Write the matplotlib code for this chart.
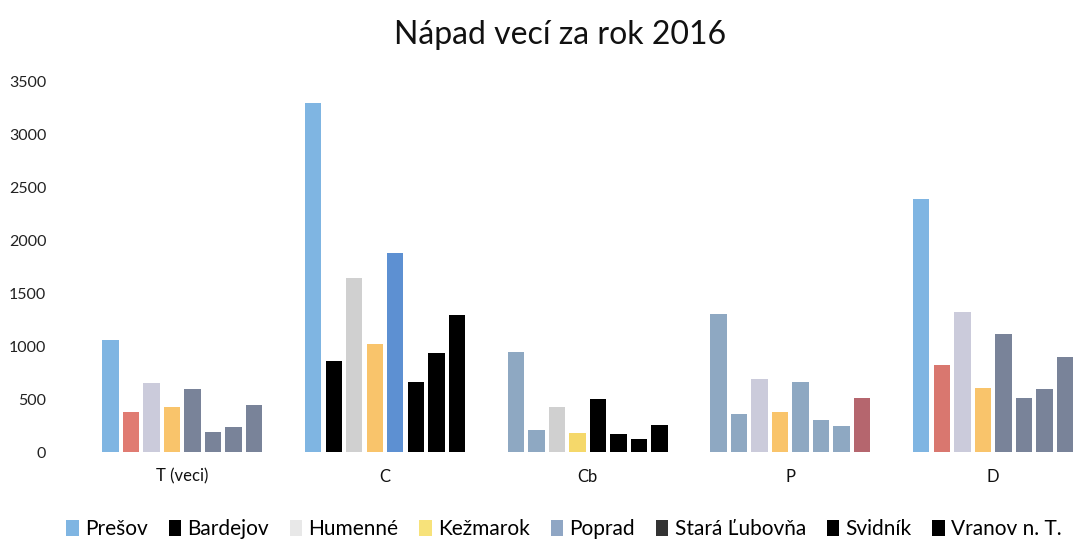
import numpy as np
import matplotlib.pyplot as plt
from matplotlib.patches import Patch

# ==================== data ====================
categories = ["T (veci)", "C", "Cb", "P", "D"]
series = ["Prešov", "Bardejov", "Humenné", "Kežmarok", "Poprad",
          "Stará Ľubovňa", "Svidník", "Vranov n. T."]

# values per series, one per category (T, C, Cb, P, D)
presov = [1060, 3300, 950, 1305, 2390]
bardejov = [380, 865, 210, 360, 825]
humenne = [655, 1645, 430, 690, 1320]
kezmarok = [425, 1020, 180, 380, 610]
poprad = [595, 1885, 500, 660, 1115]
stara_lubovna = [190, 665, 170, 305, 515]
svidnik = [235, 940, 125, 245, 595]
vranov = [445, 1295, 260, 510, 895]

values = [presov, bardejov, humenne, kezmarok, poprad, stara_lubovna, svidnik, vranov]

y_ticks = [0, 500, 1000, 1500, 2000, 2500, 3000, 3500]

# ==================== styles ====================
BLUE = "#7fb5e2"
SALMON = "#e07b72"
LAVENDER = "#cbcbdb"
ORANGE = "#f9c46b"
SLATE = "#798399"
STEEL = "#8ea8c2"
BLACK = "#000000"
GRAY = "#d0d0d0"
POP = "#5d90d2"
MAROON = "#b5666e"

# colour of each bar: rows = categories, columns = series
bar_colors = [
    [BLUE, SALMON, LAVENDER, ORANGE, SLATE, SLATE, SLATE, SLATE],
    [BLUE, BLACK, GRAY, ORANGE, POP, BLACK, BLACK, BLACK],
    [STEEL, STEEL, GRAY, "#f5d86a", BLACK, BLACK, BLACK, BLACK],
    [STEEL, STEEL, LAVENDER, ORANGE, STEEL, STEEL, STEEL, MAROON],
    [BLUE, "#d9776f", LAVENDER, ORANGE, SLATE, SLATE, SLATE, SLATE],
]
legend_colors = [BLUE, BLACK, "#e8e8e8", "#f7e27a", "#8fa6c4", "#333333", BLACK, BLACK]

plt.rcParams["font.family"] = ["Lato", "DejaVu Sans"]

fig = plt.figure(figsize=(10.77, 5.44), dpi=100)
ax = fig.add_axes([81 / 1077, (544 - 452) / 544, (1077 - 81) / 1077, (452 - 82) / 544])

x = np.arange(len(categories))
n = len(series)
slot = 0.81 / n
bar_w = slot * 0.8
for i, vals in enumerate(values):
    offs = (i - (n - 1) / 2) * slot
    cols = [bar_colors[c][i] for c in range(len(categories))]
    ax.bar(x + offs, vals, width=bar_w, color=cols, linewidth=0)

ax.set_xlim(-0.5, 4.414)
ax.set_ylim(0, 3500)
ax.set_yticks(y_ticks)
ax.set_yticklabels([str(v) for v in y_ticks], fontsize=11.5, color="#222222")
ax.set_xticks(x)
ax.set_xticklabels(categories, fontsize=12, color="#111111")
ax.tick_params(axis="both", length=0)
ax.tick_params(axis="y", pad=25)
ax.tick_params(axis="x", pad=12)
for s in ax.spines.values():
    s.set_visible(False)

fig.text(560 / 1077, 1 - 35 / 544, "Nápad vecí za rok 2016", ha="center", va="center",
         fontsize=23, color="#111111")

handles = [Patch(facecolor=c, edgecolor="none") for c in legend_colors]
fig.legend(handles, series, loc="center", bbox_to_anchor=(564 / 1077, 1 - 529 / 544), ncol=8,
           frameon=False, fontsize=15, handlelength=0.6, handleheight=0.8,
           handletextpad=0.3, columnspacing=1.0)

fig.savefig("out.png", dpi=100)
